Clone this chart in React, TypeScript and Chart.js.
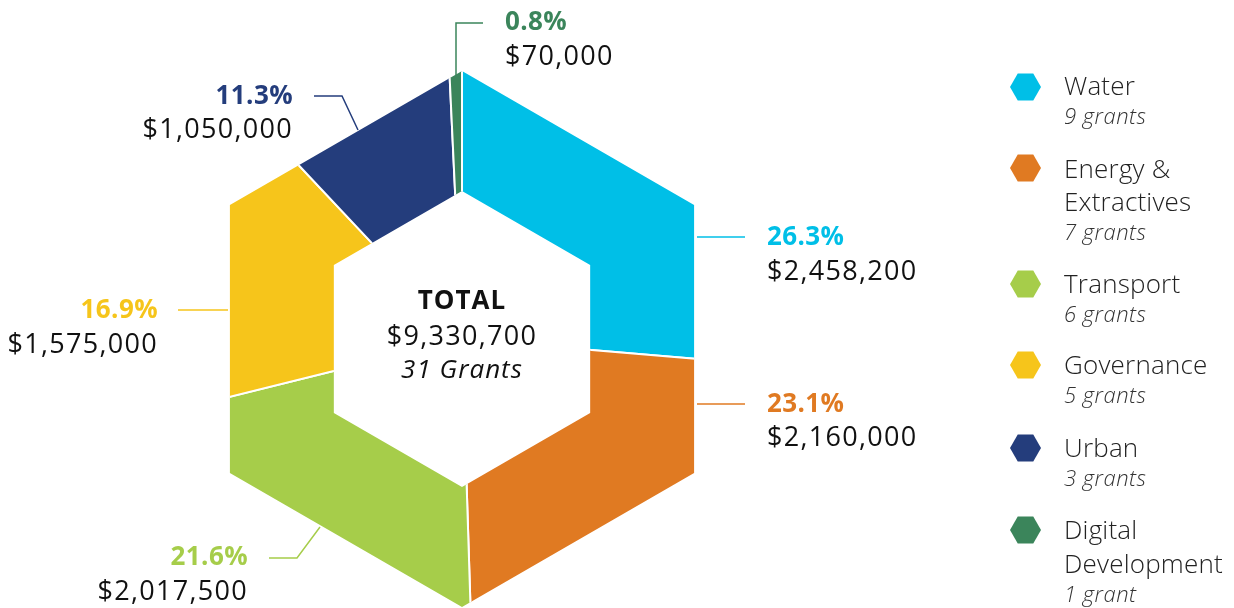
import React, { useEffect, useRef } from "react";
import { Chart, registerables } from "chart.js";

Chart.register(...registerables);

const categories = ["Water", "Energy & Extractives", "Transport", "Governance", "Urban", "Digital Development"];
const legendLines = [["Water"], ["Energy &", "Extractives"], ["Transport"], ["Governance"], ["Urban"], ["Digital", "Development"]];
const amounts = [2458200, 2160000, 2017500, 1575000, 1050000, 70000];
const grants = [9, 7, 6, 5, 3, 1];
const colors = ["#00BFE7", "#E07A22", "#A6CD4A", "#F6C51B", "#243D7C", "#3B855B"];

// layout (not data)
const HEX_OUTER = 268;
const HEX_INNER = 148;
const FONT = "'Open Sans', Lato, sans-serif";
const labelLayout = [
  { leader: [[697, 237], [745, 237]], x: 767, y1: 238, y2: 272, align: "left" },
  { leader: [[697, 404], [745, 404]], x: 767, y1: 405, y2: 438, align: "left" },
  { leader: [[320, 527], [297, 558], [269, 558]], x: 248, y1: 558, y2: 592, align: "right" },
  { leader: [[228, 310], [178, 310]], x: 158, y1: 311, y2: 345, align: "right" },
  { leader: [[358, 130], [342, 96], [314, 96]], x: 293, y1: 97, y2: 130, align: "right" },
  { leader: [[456, 75], [456, 23], [483, 23]], x: 505, y1: 23, y2: 57, align: "left" },
];
const legendRows = [
  { icon: 87, lines: [88], sub: 118 },
  { icon: 168, lines: [171, 204], sub: 234 },
  { icon: 284, lines: [286], sub: 316 },
  { icon: 365, lines: [367], sub: 397 },
  { icon: 448, lines: [450], sub: 480 },
  { icon: 530, lines: [532, 566], sub: 596 },
];

function hexPath(ctx: CanvasRenderingContext2D, cx: number, cy: number, r: number, startDeg: number) {
  for (let i = 0; i < 6; i++) {
    const a = ((startDeg + i * 60) * Math.PI) / 180;
    const x = cx + r * Math.cos(a);
    const y = cy + r * Math.sin(a);
    if (i === 0) ctx.moveTo(x, y);
    else ctx.lineTo(x, y);
  }
  ctx.closePath();
}

const fmt = (v: number) => "$" + v.toLocaleString("en-US");

function setSpacing(ctx: any, px: number) {
  if ("letterSpacing" in ctx) ctx.letterSpacing = px + "px";
}

const hexPlugin = {
  id: "hexClip",
  beforeDatasetsDraw(chart: any) {
    const arc = chart.getDatasetMeta(0).data[0];
    const ctx = chart.ctx as CanvasRenderingContext2D;
    ctx.save();
    ctx.beginPath();
    hexPath(ctx, arc.x, arc.y, HEX_OUTER, -90);
    hexPath(ctx, arc.x, arc.y, HEX_INNER, -90);
    ctx.clip("evenodd");
  },
  afterDatasetsDraw(chart: any) {
    chart.ctx.restore();
  },
  afterDraw(chart: any) {
    const ctx = chart.ctx as CanvasRenderingContext2D;
    const arc = chart.getDatasetMeta(0).data[0];
    const values: number[] = chart.data.datasets[0].data;
    const total = values.reduce((a, b) => a + b, 0);
    const totalGrants = grants.reduce((a, b) => a + b, 0);
    ctx.save();
    ctx.textBaseline = "middle";
    // center text
    ctx.textAlign = "center";
    ctx.fillStyle = "#111";
    ctx.font = `bold 26px ${FONT}`;
    setSpacing(ctx, 1);
    ctx.fillText("TOTAL", arc.x, 302);
    ctx.font = `27px ${FONT}`;
    setSpacing(ctx, 1.3);
    ctx.fillText(fmt(total), arc.x, 337);
    ctx.font = `italic 26px ${FONT}`;
    setSpacing(ctx, 1);
    ctx.fillText(`${totalGrants} Grants`, arc.x, 371);

    // slice labels
    values.forEach((v, i) => {
      const L = labelLayout[i];
      ctx.strokeStyle = colors[i];
      ctx.lineWidth = 1.5;
      ctx.beginPath();
      L.leader.forEach((p, j) => (j === 0 ? ctx.moveTo(p[0], p[1]) : ctx.lineTo(p[0], p[1])));
      ctx.stroke();
      ctx.textAlign = L.align as CanvasTextAlign;
      ctx.fillStyle = colors[i];
      ctx.font = `bold 26px ${FONT}`;
      setSpacing(ctx, 0.4);
      ctx.fillText(((v / total) * 100).toFixed(1) + "%", L.x, L.y1);
      ctx.fillStyle = "#111";
      ctx.font = `27px ${FONT}`;
      setSpacing(ctx, 1.3);
      ctx.fillText(fmt(v), L.x, L.y2);
    });

    // legend
    categories.forEach((c, i) => {
      const R = legendRows[i];
      ctx.fillStyle = colors[i];
      ctx.beginPath();
      hexPath(ctx, 1025.5, R.icon, 15.5, 0);
      ctx.fill();
      ctx.textAlign = "left";
      ctx.fillStyle = "#222";
      ctx.font = `300 26px ${FONT}`;
      setSpacing(ctx, 0.2);
      legendLines[i].forEach((t, j) => ctx.fillText(t, 1064, R.lines[j]));
      ctx.font = `italic 300 22px ${FONT}`;
      setSpacing(ctx, 0.5);
      ctx.fillStyle = "#333";
      ctx.fillText(`${grants[i]} grant${grants[i] === 1 ? "" : "s"}`, 1064, R.sub);
    });
    ctx.restore();
  },
};

export default function App() {
  const ref = useRef<HTMLCanvasElement>(null);
  useEffect(() => {
    if (!ref.current) return;
    const chart = new Chart(ref.current, {
      type: "doughnut",
      data: {
        labels: categories,
        datasets: [
          {
            data: amounts,
            backgroundColor: colors,
            borderColor: "#ffffff",
            borderWidth: 2,
            radius: 330,
            cutout: "25%",
            clip: false,
          } as any,
        ],
      },
      options: {
        responsive: false,
        animation: false,
        layout: { padding: { left: 0, right: 310, top: 70, bottom: 0 } },
        plugins: { legend: { display: false }, tooltip: { enabled: false } },
      },
      plugins: [hexPlugin],
    });
    return () => chart.destroy();
  }, []);
  return (
    <div style={{ position: "absolute", left: 0, top: 0, width: 1234, height: 608, background: "#fff" }}>
      <canvas ref={ref} width={1234} height={608} />
    </div>
  );
}
